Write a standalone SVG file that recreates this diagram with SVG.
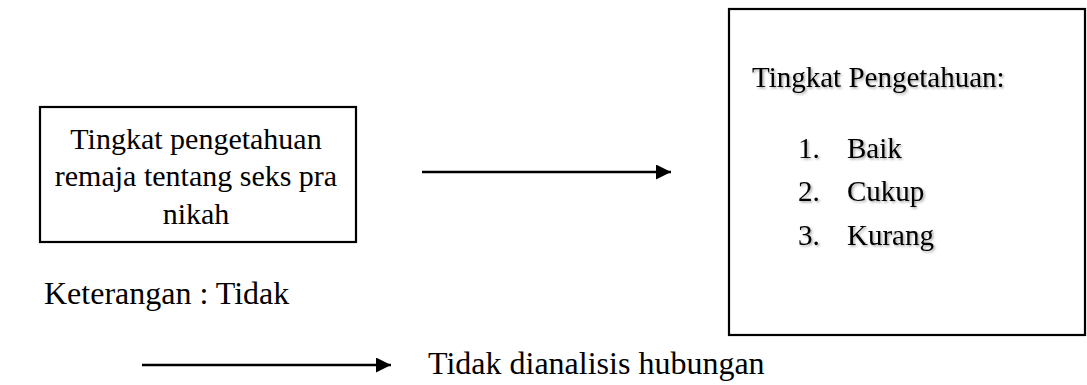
<svg xmlns="http://www.w3.org/2000/svg" width="1087" height="385" viewBox="0 0 1087 385">
  <style>
    text { font-family: "Liberation Serif", "Times New Roman", serif; font-size: 29px; fill: #000; }
    .inner text { font-size: 30px; }
    .legend text { font-size: 32px; }
    .box { fill: #fff; stroke: #000; stroke-width: 2.2; }
    .link { stroke: #000; stroke-width: 2.5; fill: none; }
    .shadowed { filter: url(#soft); }
  </style>
  <defs>
    <marker id="head" viewBox="0 0 10 10" refX="10" refY="5" markerWidth="6" markerHeight="6" markerUnits="strokeWidth" orient="auto">
      <path d="M0,0 L10,5 L0,10 z" fill="#000"/>
    </marker>
    <filter id="soft" x="-10%" y="-20%" width="130%" height="150%">
      <feDropShadow dx="1.5" dy="1.5" stdDeviation="1" flood-color="#000" flood-opacity="0.35"/>
    </filter>
  </defs>

  <!-- source variable -->
  <g id="node-knowledge" class="inner">
    <rect class="box" x="40" y="107" width="316" height="135"/>
    <text x="196" y="149" text-anchor="middle">Tingkat pengetahuan</text>
    <text x="196" y="186" text-anchor="middle">remaja tentang seks pra</text>
    <text x="196" y="224" text-anchor="middle">nikah</text>
  </g>

  <!-- outcome categories -->
  <g id="node-levels">
    <rect class="box" x="729" y="9" width="356" height="326"/>
    <g class="shadowed">
      <text x="752" y="87">Tingkat Pengetahuan:</text>
      <text x="798" y="158">1.</text>
      <text x="847" y="158">Baik</text>
      <text x="798" y="201">2.</text>
      <text x="847" y="201">Cukup</text>
      <text x="798" y="245">3.</text>
      <text x="847" y="245">Kurang</text>
    </g>
  </g>

  <!-- legend -->
  <g id="legend" class="legend">
    <text x="44" y="304">Keterangan : Tidak</text>
    <text x="428" y="374">Tidak dianalisis hubungan</text>
  </g>

  <g id="connectors">
    <line class="link" x1="422" y1="172" x2="671" y2="172" marker-end="url(#head)"/>
    <line class="link" x1="142" y1="365" x2="391" y2="365" marker-end="url(#head)"/>
  </g>
</svg>
